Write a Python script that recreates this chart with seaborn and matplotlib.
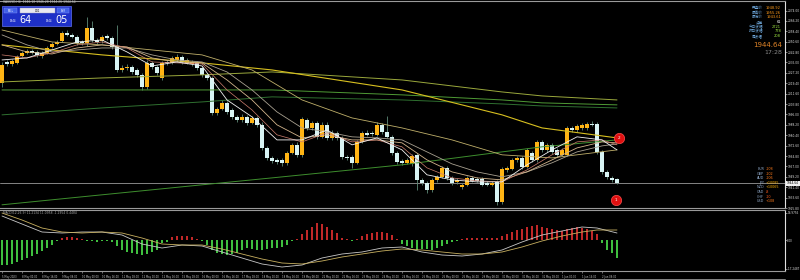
import matplotlib
matplotlib.use("Agg")
import matplotlib.pyplot as plt
from matplotlib.patches import Rectangle
import numpy as np
import pandas as pd
import seaborn as sns

sns.set_theme(style="dark")
plt.rcParams['font.family'] = ['DejaVu Sans', 'Noto Sans CJK SC']

# ------------------------------------------------------------------ data
bar_open = [2019.7, 2035.4, 2033.9, 2034.7, 2039.9, 2042.2, 2043.7, 2042.9, 2039.9, 2042.2,
            2046.7, 2048.9, 2051.2, 2057.2, 2055.7, 2054.2, 2050.4, 2049.7, 2060.9, 2051.9,
            2051.2, 2054.9, 2053.4, 2046.7, 2029.4, 2030.9, 2031.7, 2029.4, 2025.7, 2016.7,
            2034.7, 2031.7, 2023.4, 2035.4, 2034.7, 2036.9, 2039.2, 2034.7, 2033.9, 2034.7,
            2030.9, 2025.7, 2023.4, 1997.2, 2000.2, 2004.7, 1999.4, 1994.2, 1991.9, 1994.2,
            1989.7, 1993.4, 1988.2, 1970.9, 1963.4, 1961.9, 1961.9, 1959.7, 1967.2, 1973.2,
            1965.7, 1991.9, 1985.9, 1989.7, 1979.2, 1988.2, 1978.4, 1982.2, 1978.4, 1964.2,
            1964.2, 1959.7, 1975.4, 1982.2, 1982.2, 1980.7, 1988.2, 1982.9, 1979.2, 1967.2,
            1961.2, 1959.7, 1958.9, 1965.7, 1946.9, 1944.7, 1939.4, 1946.9, 1949.2, 1955.9,
            1948.4, 1945.4, 1941.7, 1943.2, 1948.4, 1947.7, 1947.7, 1944.7, 1943.2, 1945.4,
            1930.4, 1954.4, 1955.2, 1961.9, 1963.4, 1956.7, 1967.2, 1961.9, 1975.4, 1969.4,
            1973.2, 1969.4, 1965.7, 1965.7, 1985.9, 1984.4, 1985.9, 1985.9, 1988.9, 1988.9,
            1967.9, 1952.9, 1948.4, 1947.7]
bar_close = [2033.2, 2033.9, 2036.2, 2039.2, 2042.2, 2043.7, 2042.2, 2040.7, 2042.2, 2045.9,
             2048.9, 2050.4, 2057.2, 2055.7, 2054.2, 2049.7, 2049.7, 2060.9, 2051.9, 2050.4,
             2054.2, 2053.4, 2046.7, 2029.4, 2030.9, 2031.7, 2027.9, 2025.7, 2016.7, 2034.7,
             2031.7, 2027.2, 2034.7, 2034.7, 2038.4, 2039.2, 2035.4, 2036.9, 2035.4, 2030.9,
             2025.7, 2023.4, 1997.2, 2000.2, 2004.7, 1997.9, 1994.2, 1991.9, 1994.2, 1989.7,
             1993.4, 1988.2, 1970.9, 1963.4, 1961.2, 1960.4, 1959.7, 1967.2, 1973.2, 1965.7,
             1992.7, 1985.9, 1989.7, 1979.2, 1988.2, 1978.4, 1982.2, 1978.4, 1964.2, 1963.4,
             1959.7, 1975.4, 1982.2, 1980.7, 1981.4, 1988.2, 1982.9, 1979.2, 1967.2, 1960.4,
             1959.7, 1961.9, 1964.9, 1946.9, 1944.7, 1939.4, 1946.9, 1949.2, 1955.9, 1948.4,
             1944.7, 1946.9, 1943.2, 1948.4, 1946.2, 1946.2, 1943.2, 1943.2, 1944.7, 1930.4,
             1955.2, 1955.9, 1961.9, 1963.4, 1956.7, 1969.4, 1961.9, 1975.4, 1969.4, 1973.2,
             1967.9, 1965.7, 1969.4, 1985.9, 1984.4, 1987.4, 1988.2, 1988.9, 1988.2, 1967.9,
             1952.9, 1949.2, 1946.9, 1944.64]
bar_high = [2035.0, 2037.0, 2037.5, 2040.5, 2043.4, 2045.0, 2045.2, 2044.0, 2043.5, 2047.0,
            2050.0, 2051.8, 2058.8, 2059.5, 2057.0, 2055.5, 2052.0, 2069.0, 2066.0, 2053.5,
            2056.0, 2056.5, 2055.0, 2063.0, 2033.0, 2033.5, 2033.0, 2031.0, 2027.0, 2036.5,
            2036.0, 2033.0, 2036.0, 2037.0, 2040.0, 2041.0, 2040.5, 2038.5, 2037.0, 2036.0,
            2032.0, 2027.0, 2025.0, 2001.5, 2006.5, 2006.0, 2001.0, 1995.5, 1996.0, 1995.5,
            1995.0, 1995.0, 1990.0, 1972.5, 1965.0, 1963.5, 1963.5, 1968.5, 1974.5, 1975.0,
            1994.0, 1993.5, 1991.0, 1991.0, 1990.0, 1990.0, 1984.0, 1983.5, 1980.0, 1965.5,
            1965.5, 1977.0, 1983.5, 1984.0, 1983.5, 1990.0, 1989.5, 1994.5, 1980.5, 1968.5,
            1962.5, 1963.0, 1966.5, 1967.0, 1948.0, 1946.0, 1948.5, 1950.5, 1957.5, 1957.0,
            1949.5, 1948.0, 1944.5, 1949.5, 1949.5, 1949.0, 1949.0, 1946.0, 1946.0, 1946.5,
            1956.5, 1957.5, 1963.5, 1965.0, 1964.5, 1971.0, 1968.5, 1977.0, 1976.5, 1974.5,
            1974.5, 1970.5, 1970.5, 1987.5, 1987.0, 1989.0, 1989.5, 1990.5, 1991.0, 1990.5,
            1969.0, 1954.0, 1949.5, 1948.5]
bar_low = [2016.5, 2032.5, 2032.6, 2033.5, 2038.8, 2041.0, 2041.0, 2039.0, 2038.5, 2041.0,
           2045.5, 2047.8, 2050.0, 2054.5, 2053.0, 2048.0, 2048.0, 2047.5, 2050.5, 2048.5,
           2049.5, 2052.0, 2045.0, 2027.5, 2027.5, 2029.0, 2026.5, 2024.0, 2014.5, 2015.0,
           2030.0, 2025.5, 2021.5, 2033.0, 2033.5, 2035.5, 2034.0, 2033.5, 2032.5, 2029.5,
           2024.0, 2021.5, 1995.5, 1995.5, 1999.0, 1996.5, 1992.5, 1990.0, 1990.5, 1988.0,
           1988.5, 1986.5, 1969.0, 1961.5, 1959.5, 1958.5, 1957.5, 1958.0, 1966.0, 1964.0,
           1964.0, 1984.5, 1984.5, 1977.5, 1978.0, 1977.0, 1977.0, 1977.0, 1962.5, 1962.0,
           1956.0, 1958.5, 1974.5, 1979.5, 1980.0, 1979.5, 1981.5, 1978.0, 1965.5, 1959.0,
           1958.0, 1958.5, 1957.5, 1939.5, 1943.0, 1937.0, 1938.0, 1945.5, 1948.0, 1947.0,
           1943.0, 1944.0, 1940.0, 1942.0, 1945.0, 1945.0, 1942.0, 1942.0, 1942.0, 1928.0,
           1929.0, 1953.0, 1954.0, 1960.5, 1955.0, 1955.5, 1960.5, 1960.5, 1968.0, 1968.0,
           1966.5, 1964.0, 1964.5, 1964.5, 1983.0, 1983.0, 1984.5, 1984.5, 1987.0, 1966.0,
           1951.0, 1947.5, 1945.5, 1943.5]
bid_price = 1944.64

ribbon_bars = [0, 5, 10, 15, 20, 25, 30, 35, 40, 45, 50, 55, 60, 65, 70, 75, 80, 85, 90,
               95, 100, 105, 110, 115, 120, 123]
ma_white = [2036.9, 2038.4, 2044.4, 2050.4, 2051.9, 2042.9, 2032.4, 2035.4, 2032.4, 2006.9,
            1994.2, 1976.9, 1976.9, 1984.4, 1973.2, 1978.4, 1969.4, 1950.7, 1946.9, 1945.4,
            1945.4, 1958.2, 1969.4, 1979.2, 1976.9, 1969.4]
ma_salmon = [2040.7, 2038.4, 2042.2, 2048.2, 2050.4, 2045.9, 2035.4, 2034.7, 2033.9, 2014.4,
             1999.4, 1980.7, 1975.4, 1982.2, 1975.4, 1976.9, 1971.7, 1955.9, 1948.4, 1946.2,
             1945.4, 1954.4, 1965.7, 1975.4, 1976.9, 1973.2]
ma_tan = [2048.2, 2042.9, 2041.4, 2045.9, 2048.2, 2046.7, 2038.4, 2035.4, 2034.7, 2021.9,
          2006.9, 1988.2, 1978.4, 1980.7, 1976.9, 1976.9, 1974.7, 1961.9, 1952.9, 1948.4,
          1946.9, 1952.9, 1961.9, 1970.9, 1975.4, 1974.7]
ma_grey = [2055.7, 2048.2, 2042.9, 2044.4, 2045.9, 2045.9, 2040.7, 2036.9, 2035.4, 2027.9,
           2014.4, 1997.9, 1985.9, 1982.9, 1979.2, 1978.4, 1976.9, 1967.9, 1958.9, 1952.9,
           1949.2, 1952.9, 1959.7, 1967.9, 1972.4, 1973.9]
mid_bars = [0, 10, 20, 30, 40, 50, 60, 70, 80, 90, 100, 110, 123]
ma_khaki = [2059.4, 2050.4, 2048.2, 2044.4, 2040.7, 2029.4, 2006.9, 1993.4, 1985.9, 1976.9,
            1965.7, 1963.4, 1969.4]
long_bars = [0, 20, 40, 54, 80, 100, 108, 123]
ma_yellow = [2048.2, 2040.7, 2034.7, 2029.4, 2014.4, 1995.7, 1985.9, 1978.4]
ma_olive = [2020.4, 2023.4, 2025.7, 2027.9, 2021.9, 2012.9, 2009.9, 2006.9]
ma_green = [2014.4, 2014.4, 2014.4, 2014.4, 2010.7, 2006.9, 2004.7, 2003.2]
ma_darkgreen = [1995.7, 2000.9, 2005.4, 2009.2, 2006.9, 2003.9, 2002.4, 2000.9]
ma_lowgreen = [1928.2, 1935.7, 1943.2, 1948.4, 1958.2, 1967.9, 1971.7, 1976.9]

# signal markers
signal_bar = [123.4, 122.8]
signal_price = [1978.4, 1931.9]
signal_text = ["2", "1"]

# MACD panel
macd_hist = [-25, -25, -24, -22, -20, -18, -16, -14, -11, -8, -5, -1, 2, 3, 3, 2, 1, -1, -1, -2,
             -1, -1, -2, -6, -10, -12, -13, -14, -15, -14, -12, -10, -3, -2, 3, 4, 4, 4, 3, 1,
             -1, -5, -10, -13, -14, -15, -14, -13, -10, -8, -9, -10, -10, -9, -8, -8, -7, -5, -1, 1,
             6, 10, 13, 17, 16, 13, 10, 7, 2, 1, -1, 1, 4, 6, 7, 8, 8, 7, 5, 1,
             -4, -6, -8, -10, -9, -9, -10, -8, -6, -4, -2, -1, 1, 2, 2, 2, 2, 2, 2, 2,
             4, 6, 8, 10, 11, 13, 14, 15, 13, 12, 11, 10, 9, 11, 12, 13, 12, 11, 9, 6,
             -3, -10, -13, -18]
macd_bars = [0, 4, 8, 12, 16, 20, 24, 28, 32, 36, 40, 44, 48, 52, 56, 60, 64, 68, 72, 76, 80,
             84, 88, 92, 96, 100, 104, 108, 112, 116, 119, 123]
macd_main = [24, 16, 8, 7, 8, 8, 5, -4, -8, -5, -6, -12, -18, -24, -27, -25, -18, -14, -12, -8,
             -7, -12, -15, -16, -14, -10, -2, 5, 9, 13, 12, 7]
macd_signal = [27, 20, 12, 8, 7, 8, 7, 2, -4, -5, -5, -9, -14, -19, -23, -24, -21, -17, -14, -11,
               -9, -10, -12, -14, -14, -12, -7, -1, 4, 8, 10, 10]

price_ticks = [1925.8, 1933.6, 1941.4, 1949.2, 1957.0, 1964.8, 1972.6, 1980.4, 1988.2, 1996.0,
               2003.8, 2011.6, 2019.4, 2027.2, 2035.0, 2042.8, 2050.6, 2058.4, 2066.2, 2074.0]
macd_ticks = [27, 0, -29]
macd_tick_labels = ["16.9756", "0.00", "-17.2487"]
date_labels = ["5 May 2023", "8 May 00:00", "8 May 16:00", "9 May 08:00", "10 May 00:00",
               "10 May 16:00", "11 May 08:00", "12 May 00:00", "12 May 16:00", "15 May 08:00",
               "16 May 00:00", "16 May 16:00", "17 May 08:00", "18 May 00:00", "18 May 16:00",
               "19 May 08:00", "22 May 00:00", "22 May 16:00", "23 May 08:00", "24 May 00:00",
               "24 May 16:00", "25 May 08:00", "26 May 00:00", "26 May 16:00", "29 May 08:00",
               "30 May 00:00", "30 May 16:00", "31 May 08:00", "1 Jun 00:00", "1 Jun 16:00",
               "2 Jun 08:00"]

info_labels = ["开盘价", "最高价", "最低价", "点差", "今日波幅", "昨日波幅", "周波幅"]
info_values = ["1948.92", "1955.26", "1943.61", "61", "2721", "778", "208"]
info_colors = ["#FF9A1A", "#FF9A1A", "#FF9A1A", "#FFFFFF", "#9BE040", "#9BE040", "#9BE040"]
ccy_labels = ["EUR", "GBP", "AUD", "JPY", "NZD", "CAD", "CHF", "USD"]
ccy_values = ["-108", "-102", "-106", "+10085", "+10065", "-8", "-10", "+108"]

# ------------------------------------------------------------------ figure
W, H = 800, 280
fig = plt.figure(figsize=(8, 2.8), dpi=100, facecolor="black")


def px_axes(x0, y0, x1, y1):
    return fig.add_axes([x0 / W, 1 - y1 / H, (x1 - x0) / W, (y1 - y0) / H])


ax = px_axes(0, 1, 785, 208)
axm = px_axes(0, 210, 785, 271)
for a in (ax, axm):
    a.set_facecolor("black")
    a.grid(False)
    a.spines["left"].set_visible(False)
    a.spines["top"].set_color("#9A9A9A")
    a.spines["bottom"].set_color("#9A9A9A")
    a.spines["right"].set_color("#E0E0E0")
    for s in a.spines.values():
        s.set_linewidth(0.8)
    a.set_xlim(-0.4, 156.6)

n = len(bar_open)
idx = np.arange(n)
df = pd.DataFrame({"bar": idx, "open": bar_open, "close": bar_close,
                   "high": bar_high, "low": bar_low})
up = df["close"] >= df["open"]

# wicks
ax.vlines(df["bar"], df["low"], df["high"], color="#5F8A78", lw=0.6, zorder=2)
# bodies
body = (df["close"] - df["open"]).abs().clip(lower=0.6)
bottom = df[["open", "close"]].min(axis=1)
ax.bar(df["bar"][up], body[up], bottom=bottom[up], width=0.62, color="#FFB414",
       edgecolor="none", zorder=3)
ax.bar(df["bar"][~up], body[~up], bottom=bottom[~up], width=0.62, color="#D8F4F4",
       edgecolor="none", zorder=3)

# moving averages
lines = [
    (long_bars, ma_lowgreen, "#3E8E2E", 0.7),
    (long_bars, ma_darkgreen, "#2F7030", 0.7),
    (long_bars, ma_green, "#4F9A35", 0.7),
    (long_bars, ma_olive, "#9AA83C", 0.7),
    (long_bars, ma_yellow, "#D8C020", 0.8),
    (mid_bars, ma_khaki, "#BFAF6A", 0.6),
    (ribbon_bars, ma_grey, "#A8A090", 0.6),
    (ribbon_bars, ma_tan, "#D2B48C", 0.6),
    (ribbon_bars, ma_salmon, "#D08070", 0.5),
    (ribbon_bars, ma_white, "#F0F0F0", 0.6),
]
for xs, ys, col, lw in lines:
    sns.lineplot(x=xs, y=ys, ax=ax, color=col, lw=lw, legend=False, zorder=4)

# bid line
ax.axhline(bid_price, color="#9A9A9A", lw=0.6, zorder=1)

# signal circles
ax.scatter(signal_bar, signal_price, s=55, color="#E01010", edgecolor="#FF5050",
           linewidth=0.5, zorder=6)
for bx, py, t in zip(signal_bar, signal_price, signal_text):
    ax.text(bx, py, t, color="white", fontsize=3, ha="center", va="center", zorder=7)

ax.set_ylim(1925.89, 2081.14)
ax.yaxis.tick_right()
ax.set_yticks(price_ticks)
ax.set_yticklabels([f"{v:.2f}" for v in price_ticks])
ax.tick_params(axis="y", colors="#E0E0E0", labelsize=2.1, length=1.2, width=0.4, pad=0.5,
               right=True, left=False)
ax.set_xticks([])
ax.set_xlabel("")
ax.set_ylabel("")

# MACD
hcol = ["#C02828" if v > 0 else "#3FBF3F" for v in macd_hist]
axm.bar(idx, macd_hist, width=0.3, color=hcol, edgecolor="none", zorder=2)
sns.lineplot(x=macd_bars, y=macd_main, ax=axm, color="#C8C8C8", lw=0.6, legend=False, zorder=3)
sns.lineplot(x=macd_bars, y=macd_signal, ax=axm, color="#C8B060", lw=0.6, legend=False, zorder=3)
axm.set_ylim(-31, 30)
axm.yaxis.tick_right()
axm.set_yticks(macd_ticks)
axm.set_yticklabels(macd_tick_labels)
axm.tick_params(axis="y", colors="#E0E0E0", labelsize=2.0, length=1.2, width=0.4, pad=0.5,
                right=True, left=False)
date_pos = list(range(0, 124, 4))
axm.set_xticks(date_pos)
axm.set_xticklabels(date_labels, ha="left")
axm.tick_params(axis="x", colors="#C8C8C8", labelsize=1.85, length=1.5, width=0.4, pad=1.2,
                bottom=True)
axm.set_xlabel("")
axm.set_ylabel("")

# ------------------------------------------------------------------ overlay decorations
ov = fig.add_axes([0, 0, 1, 1], facecolor="none", zorder=10)
ov.set_xlim(0, W)
ov.set_ylim(H, 0)
ov.axis("off")

ov.text(3, 2.3, "XAUUSD,H4  1946.18 1946.28 1944.26 1944.64", color="#C8C8C8",
        fontsize=2.2, va="center", ha="left")
ov.add_patch(Rectangle((2, 6), 69, 20, facecolor="#1E30C8", edgecolor="#6070F0", lw=0.5))
ov.add_patch(Rectangle((4, 8), 13, 5, facecolor="#4060E8", edgecolor="#8090F0", lw=0.3))
ov.add_patch(Rectangle((20, 8), 35, 5, facecolor="#E8E8F0", edgecolor="#A0A0C0", lw=0.3))
ov.add_patch(Rectangle((57, 8), 12, 5, facecolor="#4060E8", edgecolor="#8090F0", lw=0.3))
ov.text(10.5, 10.6, "SELL", color="white", fontsize=1.8, ha="center", va="center")
ov.text(37.5, 10.6, "0.01", color="black", fontsize=1.8, ha="center", va="center")
ov.text(63, 10.6, "BUY", color="white", fontsize=1.8, ha="center", va="center")
ov.text(13, 21.5, "1944", color="white", fontsize=1.9, ha="center", va="center")
ov.text(25.5, 20.2, "64", color="white", fontsize=7, ha="center", va="center")
ov.text(49, 21.5, "1944", color="white", fontsize=1.9, ha="center", va="center")
ov.text(61.5, 20.2, "05", color="white", fontsize=7, ha="center", va="center")

for k, (lab, val, col) in enumerate(zip(info_labels, info_values, info_colors)):
    yy = 8 + k * 4.7
    ov.text(763, yy, lab, color="#6FA8DC", fontsize=2.6, ha="right", va="center")
    ov.text(781, yy, val, color=col, fontsize=2.6, ha="right", va="center")
ov.text(782, 45, "1944.64", color="#E08428", fontsize=5, ha="right", va="center")
ov.text(782, 52, "17:28", color="#8A8A8A", fontsize=4.5, ha="right", va="center")

ccy_cols = ["#FF7A1A", "#FF7A1A", "#FF7A1A", "#FFB000", "#FFB000", "#FF5A1A", "#FF5A1A",
            "#FF7A1A"]
for k, (lab, val) in enumerate(zip(ccy_labels, ccy_values)):
    yy = 169 + k * 4.6
    ov.text(764, yy, lab, color="#8FA8C8", fontsize=2.4, ha="right", va="center")
    ov.text(766, yy, val, color=ccy_cols[k], fontsize=2.4, ha="left", va="center")

# bid price label on axis
ov.add_patch(Rectangle((786, 180.5), 14, 5, facecolor="#F0F0F0", edgecolor="none"))
ov.text(786.8, 183, "1944.64", color="black", fontsize=2.1, ha="left", va="center")

ov.text(3, 213, "MACD(12,26,9) 11.2134 11.0958 -1.2954 0.4484", color="#A8A8A8",
        fontsize=2.2, ha="left", va="center")
ov.plot([0, 785], [279, 279], color="#9A9A9A", lw=0.6)

fig.savefig("out.png", dpi=100, facecolor="black")
